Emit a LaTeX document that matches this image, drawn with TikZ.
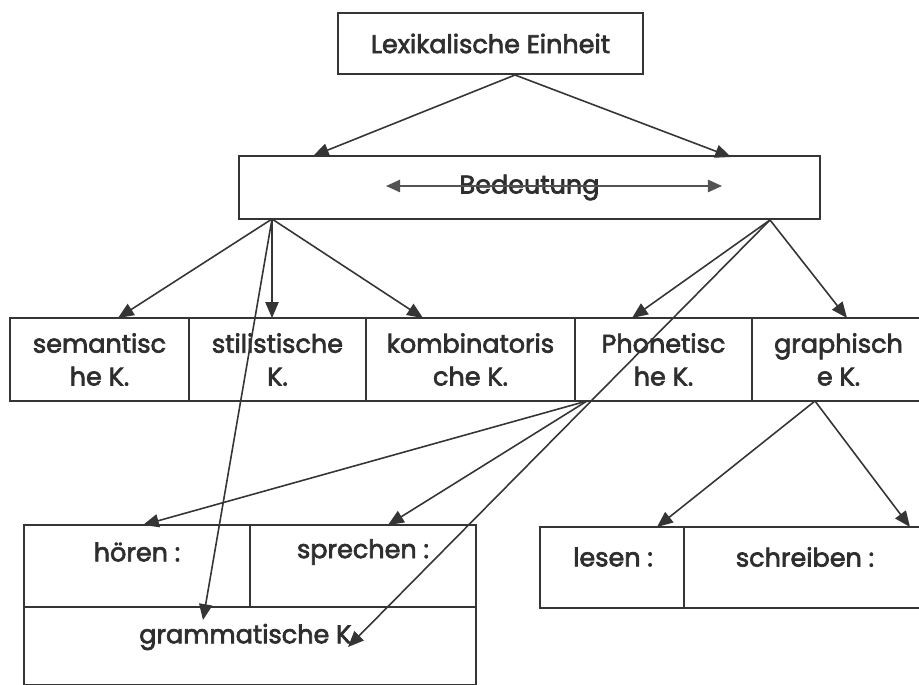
\documentclass[tikz,border=0pt]{standalone}
\usepackage{fontspec}
\setmainfont{Poppins}
\newfontfamily\boxfont{Poppins}[FakeBold=2.6]
\usetikzlibrary{arrows.meta,positioning}
\newcommand{\pxu}{0.02cm}
\definecolor{ink}{HTML}{353535}
\definecolor{inktext}{HTML}{2E2E2E}

\begin{document}
\begin{tikzpicture}[x=0.02cm, y=-0.02cm,
    cell/.style={draw=ink, line width=1pt, inner sep=0pt, text=inktext,
        align=center, font=\boxfont\fontsize{14.5}{18.7}\selectfont},
    txt/.style={text=inktext, inner sep=0pt, font=\boxfont\fontsize{14.5}{18.7}\selectfont},
    link/.style={draw=ink, line width=0.9pt, -{Triangle[length=9pt,width=7.5pt]}},
    twoway/.style={draw=ink!85, line width=0.9pt,
        {Triangle[length=8pt,width=7pt]}-{Triangle[length=8pt,width=7pt]}}]

    \useasboundingbox[fill=white] (0,0) rectangle (919,685);

    % Row positions
    \def\rowMid{359.5}
    \def\rowH{83}

    % =========================================================================
    % Top: Lexikalische Einheit and Bedeutung
    % =========================================================================
    \node[cell, minimum width=305*\pxu, minimum height=61*\pxu] (lex) at (490.5,43.5) {Lexikalische Einheit};
    \node[cell, minimum width=581*\pxu, minimum height=63*\pxu] (bed) at (529.5,187.5) {Bedeutung};

    \coordinate (lexFork) at (515,75);
    \coordinate (bedInL) at (313,156);
    \coordinate (bedInR) at (731,157);
    \draw[link] (lexFork) -- (bedInL);
    \draw[link] (lexFork) -- (bedInR);

    % double arrow through the word
    \coordinate (meanL) at (386,186);
    \coordinate (meanR) at (722,186);
    \draw[twoway] (meanL) -- (meanR);

    % =========================================================================
    % Middle row: the five kinds of K.
    % =========================================================================
    \node[cell, minimum width=179*\pxu, minimum height=\rowH*\pxu] (sem) at (99.5,\rowMid) {semantisc\\he K.};
    \node[cell, minimum width=177*\pxu, minimum height=\rowH*\pxu] (sti) at (277.5,\rowMid) {stilistische\\K.};
    \node[cell, minimum width=209*\pxu, minimum height=\rowH*\pxu] (kom) at (470.5,\rowMid) {kombinatoris\\che K.};
    \node[cell, minimum width=177*\pxu, minimum height=\rowH*\pxu] (pho) at (663.5,\rowMid) {Phonetisc\\he K.};
    \node[cell, minimum width=173*\pxu, minimum height=\rowH*\pxu] (gra) at (838.5,\rowMid) {graphisch\\e K.};

    \coordinate (bedForkL) at (272,219);
    \coordinate (bedForkR) at (770,220);
    \coordinate (semIn) at (118,318);
    \coordinate (stiIn) at (272,318);
    \coordinate (komIn) at (423,318);
    \coordinate (phoIn) at (632,318);
    \coordinate (graIn) at (847,318);

    \draw[link] (bedForkL) -- (semIn);
    \draw[link] (bedForkL) -- (stiIn);
    \draw[link] (bedForkL) -- (komIn);
    \draw[link] (bedForkR) -- (phoIn);
    \draw[link] (bedForkR) -- (graIn);

    % =========================================================================
    % Bottom left: hoeren, sprechen, grammatische K.
    % =========================================================================
    \node[cell, minimum width=226*\pxu, minimum height=82*\pxu] (hoe) at (137,566) {};
    \node[cell, minimum width=226*\pxu, minimum height=82*\pxu] (spr) at (363,566) {};
    \node[cell, minimum width=452*\pxu, minimum height=78*\pxu] (gram) at (250,646) {};

    \node[txt] (hoeText) at (137,552) {hören :};
    \node[txt] (sprText) at (363,552) {sprechen :};
    \node[txt] (gramText) at (248,637) {grammatische K.};

    \coordinate (phoFork) at (587,401);
    \coordinate (hoeIn) at (143,525);
    \coordinate (sprIn) at (388,525);
    \coordinate (gramTipA) at (203,620);
    \coordinate (gramTipB) at (348,647);

    \draw[link] (phoFork) -- (hoeIn);
    \draw[link] (phoFork) -- (sprIn);
    \draw[link] (bedForkL) -- (gramTipA);
    \draw[link] (bedForkR) -- (gramTipB);

    % =========================================================================
    % Bottom right: lesen, schreiben
    % =========================================================================
    \node[cell, minimum width=144*\pxu, minimum height=81*\pxu] (les) at (612,567.5) {};
    \node[cell, minimum width=241*\pxu, minimum height=81*\pxu] (sch) at (804.5,567.5) {};

    \node[txt] (lesText) at (613,557) {lesen :};
    \node[txt] (schText) at (805,557) {schreiben :};

    \coordinate (graFork) at (815,401);
    \coordinate (lesIn) at (657,527);
    \coordinate (schIn) at (910,527);

    \draw[link] (graFork) -- (lesIn);
    \draw[link] (graFork) -- (schIn);

\end{tikzpicture}
\end{document}
